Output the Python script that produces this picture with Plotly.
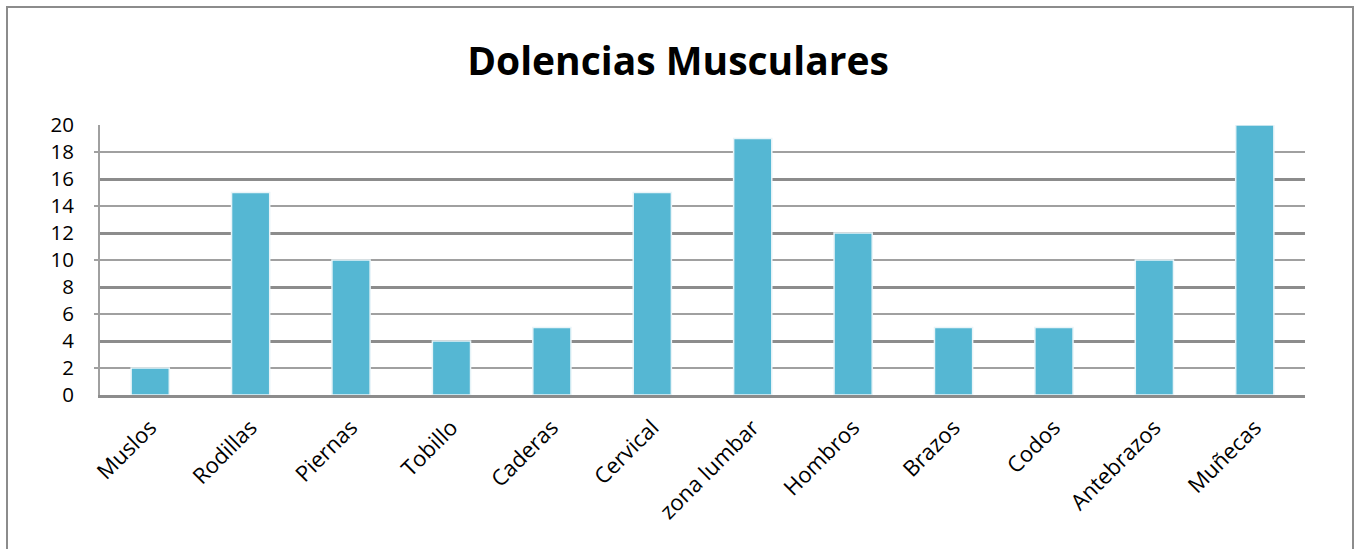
import plotly.graph_objects as go

categories = ["Muslos", "Rodillas", "Piernas", "Tobillo", "Caderas", "Cervical",
              "zona lumbar", "Hombros", "Brazos", "Codos", "Antebrazos", "Muñecas"]
values = [2, 15, 10, 4, 5, 15, 19, 12, 5, 5, 10, 20]
y_ticks = list(range(0, 21, 2))

W, H = 1356, 549
ml, mr, mt, mb = 100, 51, 125, 154
pw, ph = W - ml - mr, H - mt - mb

fig = go.Figure()
fig.add_trace(go.Bar(
    x=categories, y=values,
    marker=dict(color="#55B7D3", line=dict(color="#E8F4F8", width=1.5)),
    width=0.38, yaxis="y",
))
fig.add_trace(go.Scatter(x=categories, y=values, mode="none", yaxis="y2",
                         showlegend=False, hoverinfo="skip"))

fig.update_layout(
    width=W, height=H,
    margin=dict(l=ml, r=mr, t=mt, b=mb, pad=0),
    paper_bgcolor="white", plot_bgcolor="white",
    showlegend=False,
    title=dict(text="<b>Dolencias Musculares</b>", x=0.5, xanchor="center",
               y=1 - 61 / H, yanchor="middle",
               font=dict(family="Open Sans", size=39, color="black")),
    font=dict(family="Open Sans", size=22, color="black"),
    xaxis=dict(
        tickangle=-45, showgrid=False, ticks="",
        showline=True, linecolor="#8C8C8C", linewidth=3,
        tickfont=dict(family="Open Sans", size=22, color="black"),
        ticklabelstandoff=8,
        range=[-0.5, 11.5],
    ),
    yaxis=dict(
        range=[0, 20], dtick=4, tick0=0, showticklabels=False,
        showgrid=True, gridcolor="#8C8C8C", gridwidth=3,
        minor=dict(dtick=2, tick0=0, showgrid=True, gridcolor="#A0A0A0", gridwidth=2,
                   ticks="outside", ticklen=4, tickcolor="#A0A0A0", tickwidth=2),
        showline=True, linecolor="#A0A0A0", linewidth=2,
        zeroline=False, ticks="",
    ),
    yaxis2=dict(
        overlaying="y", side="left", anchor="x", range=[0, 20],
        tickvals=y_ticks, showgrid=False, zeroline=False, ticks="",
        ticklabelstandoff=25,
        tickfont=dict(family="Open Sans", size=20.5, color="black"),
    ),
    shapes=[dict(
        type="rect", xref="paper", yref="paper",
        x0=(7 - ml) / pw, x1=(1353 - ml) / pw,
        y0=(H - mb - 560) / ph, y1=(H - mb - 7) / ph,
        line=dict(color="#8C8C8C", width=2), fillcolor="rgba(0,0,0,0)", layer="below",
    )],
)

fig.write_html("out.html")
